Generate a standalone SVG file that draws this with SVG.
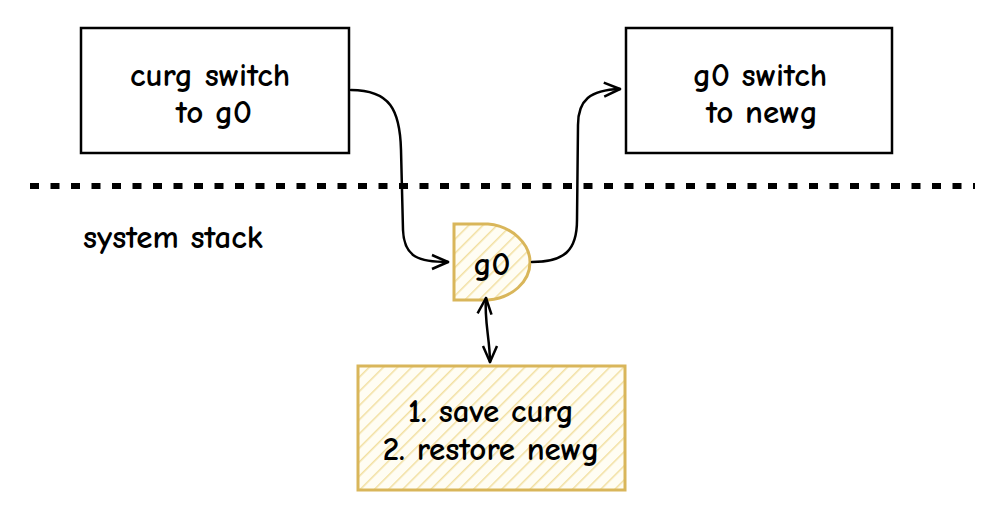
<svg xmlns="http://www.w3.org/2000/svg" width="1000" height="518" viewBox="0 0 1000 518">
<defs>
<style>
.box{fill:#fff;stroke:#000;stroke-width:2.5}
.ybox{fill:url(#hatch);stroke:#d9b65a;stroke-width:3}
.t{font-family:"Comic Neue","Lato","Liberation Sans",sans-serif;font-size:33px;font-weight:bold;fill:#000;text-anchor:middle}
.c{fill:none;stroke:#000;stroke-width:2.5;stroke-linecap:round}
</style>
<pattern id="hatch" patternUnits="userSpaceOnUse" width="10" height="10" patternTransform="rotate(45)">
<rect width="10" height="10" fill="#fffdf3"/>
<line x1="0" y1="0" x2="0" y2="10" stroke="#f2dfa0" stroke-width="3"/>
</pattern>
<marker id="ah" viewBox="0 0 20 20" refX="18" refY="10" markerWidth="20" markerHeight="20" markerUnits="userSpaceOnUse" orient="auto-start-reverse">
<path d="M2 3 L18 10 L2 17" fill="none" stroke="#000" stroke-width="2.5" stroke-linejoin="round"/>
</marker>
</defs>
<rect width="1000" height="518" fill="#fff"/>
<line x1="30" y1="186" x2="975" y2="186" stroke="#000" stroke-width="6" stroke-dasharray="9 11.5"/>
<g id="curg-box">
<rect class="box" x="81" y="28" width="268" height="125"/>
<text class="t" x="210" y="86">curg switch</text>
<text class="t" x="214" y="123">to g0</text>
</g>
<g id="newg-box">
<rect class="box" x="626" y="28" width="266" height="125"/>
<text class="t" x="760" y="86">g0 switch</text>
<text class="t" x="762" y="123">to newg</text>
</g>
<g id="label">
<text class="t" x="83" y="248" style="text-anchor:start">system stack</text>
</g>
<g id="g0">
<path class="ybox" d="M454 224 L488 224 C512 226 530 244 530 262 C530 282 512 298 488 300 L454 300 Z"/>
<text class="t" x="492" y="275">g0</text>
</g>
<g id="task">
<rect class="ybox" x="358" y="366" width="267" height="124"/>
<text class="t" x="491" y="422">1. save curg</text>
<text class="t" x="491" y="460">2. restore newg</text>
</g>
<g id="connectors">
<path class="c" d="M351 90 C390 90 400 110 401 150 L403 230 C404 258 420 262 448 262" marker-end="url(#ah)"/>
<path class="c" d="M532 262 C565 262 577 250 577 220 L578 125 C578 100 590 90 620 89" marker-end="url(#ah)"/>
<path class="c" d="M486 298 C484 320 490 340 490 362" marker-start="url(#ah)" marker-end="url(#ah)"/>
</g>
</svg>
